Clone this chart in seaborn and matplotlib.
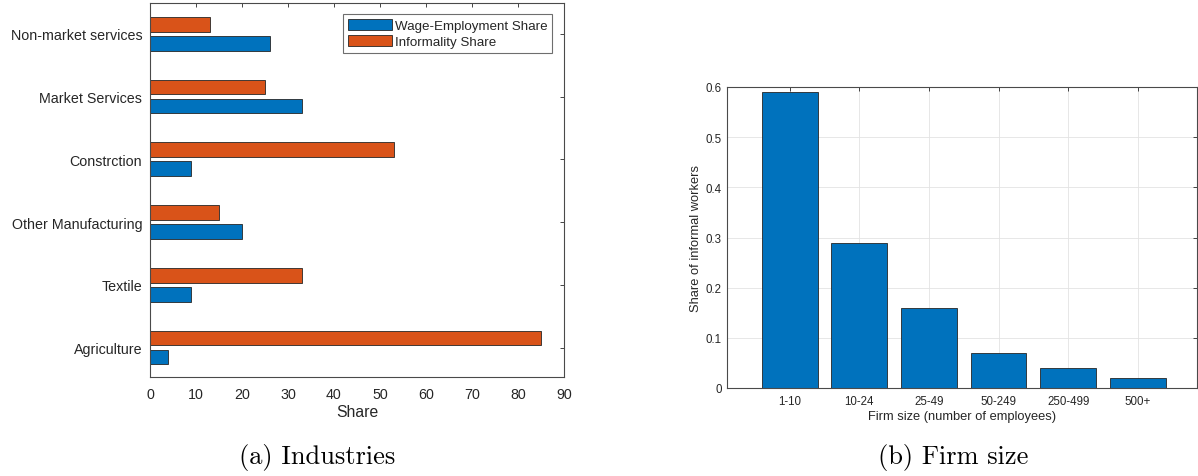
import matplotlib
matplotlib.use("Agg")
import matplotlib.pyplot as plt
from matplotlib.patches import Patch
from matplotlib.ticker import FuncFormatter, MultipleLocator
import numpy as np
import pandas as pd
import seaborn as sns

# Panel (a): industry shares (percent)
industries = ["Non-market services", "Market Services", "Constrction",
              "Other Manufacturing", "Textile", "Agriculture"]
wage_share = [26, 33, 9, 20, 9, 4]
informality_share = [13, 25, 53, 15, 33, 85]

# Panel (b): share of informal workers by firm size
firm_sizes = ["1-10", "10-24", "25-49", "50-249", "250-499", "500+"]
informal_by_size = [0.59, 0.29, 0.16, 0.07, 0.04, 0.02]

BLUE = "#0072BD"
ORANGE = "#D95319"
INK = "#262626"

sns.set_style("white")
plt.rcParams["font.family"] = ["Liberation Sans", "DejaVu Sans"]
plt.rcParams["text.color"] = INK
plt.rcParams["axes.labelcolor"] = INK
plt.rcParams["xtick.color"] = INK
plt.rcParams["ytick.color"] = INK

fig = plt.figure(figsize=(11.98, 4.77), dpi=100)

# ---------- (a) Industries ----------
ax1 = fig.add_axes([150 / 1198, 1 - 378 / 477, 414 / 1198, 374 / 477])
ind_df = pd.DataFrame({
    "industry": industries * 2,
    "series": ["Informality Share"] * len(industries) + ["Wage-Employment Share"] * len(industries),
    "value": informality_share + wage_share,
})
sns.barplot(data=ind_df, y="industry", x="value", hue="series",
            order=industries,
            hue_order=["Informality Share", "Wage-Employment Share"],
            palette={"Informality Share": ORANGE, "Wage-Employment Share": BLUE},
            orient="h", width=0.6, gap=0.22, edgecolor=INK, linewidth=0.6,
            saturation=1, errorbar=None, legend=False, ax=ax1)
ax1.set_xlim(0, 90)
ax1.set_ylim(5.47, -0.49)
ax1.xaxis.set_major_locator(MultipleLocator(10))
ax1.set_xlabel("Share", fontsize=11.3, labelpad=2)
ax1.set_ylabel("")
ax1.tick_params(axis="both", direction="in", length=3, width=0.6,
                top=True, right=True, labelsize=10.3)
ax1.tick_params(axis="x", pad=7.5)
ax1.tick_params(axis="y", pad=5.5)
for s in ax1.spines.values():
    s.set_color("#4a4a4a")
    s.set_linewidth(0.8)
handles = [Patch(facecolor=BLUE, edgecolor=INK, linewidth=0.6),
           Patch(facecolor=ORANGE, edgecolor=INK, linewidth=0.6)]
leg = ax1.legend(handles, ["Wage-Employment Share", "Informality Share"],
                 loc="upper right", bbox_to_anchor=(0.972, 0.971),
                 fontsize=9.6, frameon=True, fancybox=False,
                 handlelength=3.3, handleheight=0.95, handletextpad=0.25,
                 labelspacing=0.2, borderpad=0.35, borderaxespad=0)
leg.get_frame().set_edgecolor("#4a4a4a")
leg.get_frame().set_linewidth(0.8)

# ---------- (b) Firm size ----------
ax2 = fig.add_axes([727 / 1198, 1 - 389 / 477, 470 / 1198, 301 / 477])
size_df = pd.DataFrame({"size": firm_sizes, "share": informal_by_size})
sns.barplot(data=size_df, x="size", y="share", order=firm_sizes,
            color=BLUE, saturation=1, width=0.8, edgecolor=INK,
            linewidth=0.6, errorbar=None, ax=ax2)
ax2.set_xlim(-0.9, 5.85)
ax2.set_ylim(0, 0.6)
ax2.yaxis.set_major_locator(MultipleLocator(0.1))
ax2.yaxis.set_major_formatter(FuncFormatter(lambda v, p: f"{v:g}"))
ax2.set_axisbelow(True)
ax2.grid(True, color="#e3e3e3", linewidth=0.6)
ax2.set_xlabel("Firm size (number of employees)", fontsize=9.3, labelpad=2)
ax2.set_ylabel("Share of informal workers", fontsize=9.3, labelpad=3)
ax2.tick_params(axis="both", direction="in", length=3, width=0.6,
                top=True, right=True, labelsize=8.3)
ax2.tick_params(axis="x", pad=5)
ax2.tick_params(axis="y", pad=3.7)
for s in ax2.spines.values():
    s.set_color("#4a4a4a")
    s.set_linewidth(0.8)

# ---------- captions ----------
fig.text(317 / 1198, 1 - 458 / 477, "(a) Industries", family="cmr10",
         fontsize=19, ha="center", va="center", color="black")
fig.text(953 / 1198, 1 - 458 / 477, "(b) Firm size", family="cmr10",
         fontsize=19, ha="center", va="center", color="black")

fig.savefig("out.png", dpi=100)
